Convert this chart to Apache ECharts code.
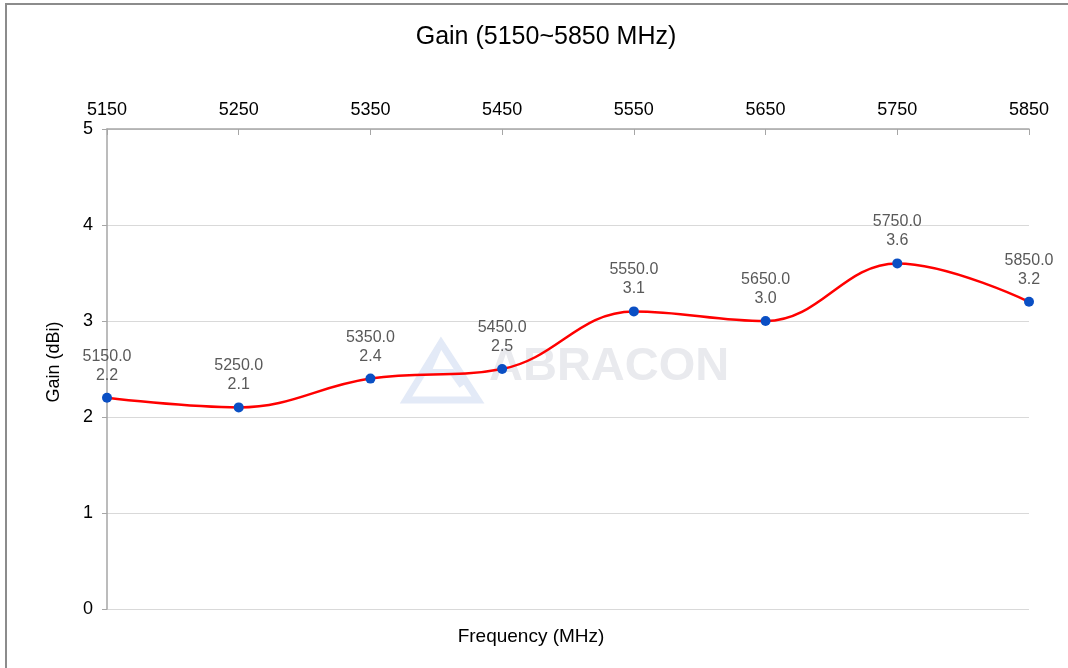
<!DOCTYPE html>
<html>
<head>
<meta charset="utf-8">
<script src="https://cdn.jsdelivr.net/npm/echarts@6/dist/echarts.min.js"></script>
<style>html,body{margin:0;padding:0;background:#fff;}#c{width:1068px;height:668px;}</style>
</head>
<body>
<div id="c"></div>
<script>
const frequencies = [5150, 5250, 5350, 5450, 5550, 5650, 5750, 5850];
const gains = [2.2, 2.1, 2.4, 2.5, 3.1, 3.0, 3.6, 3.2];
const yTicks = [0, 1, 2, 3, 4, 5];

const chart = echarts.init(document.getElementById('c'));
const font = 'Liberation Sans, Arial, sans-serif';
chart.setOption({
  animation: false,
  backgroundColor: '#fff',
  graphic: [
    { type: 'polyline', shape: { points: [[6, 668], [6, 4], [1068, 4]] }, style: { stroke: '#8c8c8c', lineWidth: 2, fill: null }, silent: true },
    { type: 'text', x: 546, y: 37, style: { text: 'Gain (5150~5850 MHz)', font: '25px Liberation Sans, Arial, sans-serif', fill: '#000', textAlign: 'center', textVerticalAlign: 'middle' }, silent: true },
    { type: 'text', x: 531, y: 637, style: { text: 'Frequency (MHz)', font: '19px Liberation Sans, Arial, sans-serif', fill: '#000', textAlign: 'center', textVerticalAlign: 'middle' }, silent: true },
    { type: 'text', x: 54, y: 362, rotation: Math.PI / 2, style: { text: 'Gain (dBi)', font: '18px Liberation Sans, Arial, sans-serif', fill: '#000', textAlign: 'center', textVerticalAlign: 'middle' }, silent: true },
    { type: 'polygon', shape: { points: [[441, 343], [406, 400], [478, 400]] }, style: { stroke: '#e3eaf7', lineWidth: 7, fill: null }, z: -1, silent: true },
    { type: 'polyline', shape: { points: [[441, 343], [428, 372], [452, 372], [462, 386]] }, style: { stroke: '#e3eaf7', lineWidth: 6, fill: null }, z: -1, silent: true },
    { type: 'text', left: 489, top: 344, style: { text: 'ABRACON', font: 'bold 47px Liberation Sans, Arial, sans-serif', fill: '#e9eaee' }, z: -1, silent: true }
  ],
  grid: { left: 107, right: 39, top: 129, bottom: 59, containLabel: false },
  xAxis: {
    type: 'value', position: 'top', min: 5150, max: 5850, interval: 100,
    axisLine: { show: true, onZero: false, lineStyle: { color: '#a6a6a6', width: 1.5 } },
    axisTick: { show: true, inside: true, length: 6, lineStyle: { color: '#a6a6a6' } },
    axisLabel: { color: '#000', fontSize: 18, fontFamily: font, margin: 10,
      formatter: v => frequencies.includes(v) ? String(v) : '' },
    splitLine: { show: false }
  },
  yAxis: {
    type: 'value', min: yTicks[0], max: yTicks[yTicks.length - 1], interval: 1,
    axisLine: { show: true, lineStyle: { color: '#a6a6a6', width: 1.5 } },
    axisTick: { show: true, length: 5, lineStyle: { color: '#a6a6a6' } },
    axisLabel: { color: '#000', fontSize: 18, fontFamily: font, margin: 14 },
    splitLine: { show: true, lineStyle: { color: '#d9d9d9', width: 1 } }
  },
  series: [{
    type: 'line',
    data: frequencies.map((f, i) => [f, gains[i]]),
    smooth: 0.4,
    lineStyle: { color: '#ff0000', width: 2.5 },
    symbol: 'circle', symbolSize: 10,
    itemStyle: { color: '#0a4fc4' },
    label: {
      show: true, position: 'top', distance: 8,
      color: '#595959', fontSize: 16, fontFamily: font, lineHeight: 19,
      formatter: p => p.value[0].toFixed(1) + '\n' + p.value[1].toFixed(1)
    },
    z: 3
  }]
});
</script>
</body>
</html>
